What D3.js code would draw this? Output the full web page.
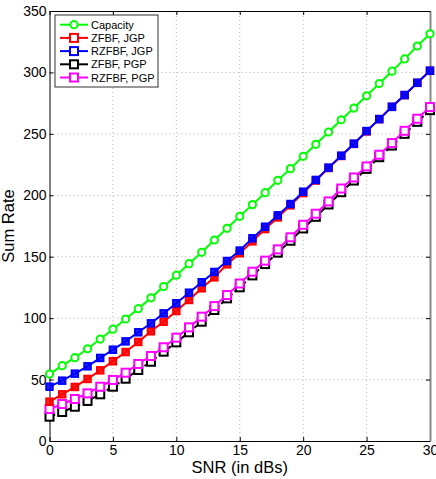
<!DOCTYPE html>
<html>
<head>
<meta charset="utf-8">
<script src="https://cdn.jsdelivr.net/npm/d3@7"></script>
<style>
  body { margin: 0; background: #fff; }
  text { font-family: "Liberation Sans", Arial, sans-serif; }
</style>
</head>
<body>
<script>
// SNR values (dB)
var snr = d3.range(0, 31);

// series
var capacity = [54.5, 61.3, 67.8, 75.1, 83, 91, 99.3, 107.7, 116.5, 125.7, 135, 144.3, 153.6, 163.6, 173.1,
  182.9, 192.4, 202.1, 212.2, 221.7, 231.7, 241.5, 251.5, 261.5, 271, 281, 291, 301, 311, 321.5, 331.5];
var zfbfJgp = [32, 38, 44, 50.5, 57.5, 64.9, 72.4, 80.6, 89.3, 97.1, 105.8, 114.8, 124.3, 133.2, 143.8,
  152.8, 162.5, 172.5, 182, 191.8, 201.8, 212, 222.2, 232, 241.8, 252, 262, 272, 281.5, 291.5, 301.3];
var rzfbfJgp = [44.2, 49.1, 54.8, 60.8, 67.6, 74.3, 81.1, 88.5, 95.8, 103.9, 112.1, 120.7, 129.2, 137.6, 146.5,
  155, 165, 174.4, 183.7, 192.9, 202.9, 212.5, 222.5, 232.2, 242, 252.3, 262, 272, 281.6, 291.6, 301.4];
var zfbfPgp = [19.8, 23.6, 27.9, 32.6, 38, 44.2, 50.7, 57.8, 64.5, 72.7, 80.3, 88.5, 97.1, 106.6, 116.1,
  125.1, 134.8, 144, 153.3, 163, 173, 182.5, 192.5, 202.5, 212, 221.5, 231, 240.5, 250, 259.8, 269.3];
var rzfbfPgp = [26, 30.1, 34.2, 38.8, 44.2, 49.7, 55.6, 62.7, 69.2, 76.3, 84.1, 92.5, 101.2, 109.8, 118.8,
  128.2, 137.8, 146.8, 156, 165.8, 176, 185, 195, 205.5, 214.5, 223.5, 233, 242.5, 252.5, 262.3, 271.8];

var xTicks = [0, 5, 10, 15, 20, 25, 30];
var yTicks = [0, 50, 100, 150, 200, 250, 300, 350];

var series = [
  {name: "Capacity", values: capacity, color: "#00ff00", marker: "circle", dash: null},
  {name: "ZFBF, JGP", values: zfbfJgp, color: "#ff0000", marker: "square", dash: null},
  {name: "RZFBF, JGP", values: rzfbfJgp, color: "#0000ff", marker: "square", dash: null},
  {name: "ZFBF, PGP", values: zfbfPgp, color: "#000000", marker: "square", dash: "6,3"},
  {name: "RZFBF, PGP", values: rzfbfPgp, color: "#ff00ff", marker: "square", dash: null}
];

var width = 436, height = 479;

var svg = d3.select("body").append("svg")
  .attr("width", width)
  .attr("height", height);

var x = d3.scaleLinear().domain([0, 30]).range([49.5, 430]);
var y = d3.scaleLinear().domain([0, 350]).range([441, 11]);

// dotted grid
svg.append("g").selectAll("line").data(xTicks.slice(1, -1)).enter().append("line")
  .attr("x1", function(d) { return x(d); }).attr("x2", function(d) { return x(d); })
  .attr("y1", y(0)).attr("y2", y(350))
  .attr("stroke", "#b4b4b4").attr("stroke-width", 1).attr("stroke-dasharray", "1,3");
svg.append("g").selectAll("line").data(yTicks.slice(1, -1)).enter().append("line")
  .attr("x1", x(0)).attr("x2", x(30))
  .attr("y1", function(d) { return y(d); }).attr("y2", function(d) { return y(d); })
  .attr("stroke", "#b4b4b4").attr("stroke-width", 1).attr("stroke-dasharray", "1,3");

// axes, ticks pointing inward on all four sides
svg.append("g").attr("transform", "translate(0," + y(0) + ")")
  .call(d3.axisBottom(x).tickValues(xTicks).tickSizeInner(-4).tickSizeOuter(0).tickPadding(4));
svg.append("g").attr("transform", "translate(" + x(0) + ",0)")
  .call(d3.axisLeft(y).tickValues(yTicks).tickSizeInner(-4).tickSizeOuter(0).tickPadding(3));
svg.append("g").attr("transform", "translate(0," + y(350) + ")")
  .call(d3.axisTop(x).tickValues(xTicks).tickSizeInner(-4).tickSizeOuter(0).tickFormat(""));
var rightAx = svg.append("g").attr("transform", "translate(" + x(30) + ",0)")
  .call(d3.axisRight(y).tickValues(yTicks).tickSizeInner(-4).tickSizeOuter(0).tickFormat(""));
rightAx.select(".domain").attr("stroke", "#888").attr("stroke-width", 2);

svg.selectAll(".tick text").attr("font-size", 14).attr("fill", "#000")
  .attr("font-family", "Liberation Sans, Arial, sans-serif");

// curves
var line = d3.line()
  .x(function(d) { return x(d[0]); })
  .y(function(d) { return y(d[1]); });

function drawMarker(g, type, cx, cy, color, hollow) {
  if (type === "circle") {
    g.append("circle").attr("cx", cx).attr("cy", cy).attr("r", 3.6)
      .attr("fill", "#fff").attr("stroke", color).attr("stroke-width", 2);
  } else {
    var s = hollow ? 8 : 6.5;
    g.append("rect").attr("x", cx - s / 2).attr("y", cy - s / 2)
      .attr("width", s).attr("height", s)
      .attr("fill", hollow ? "#fff" : color).attr("fill-opacity", hollow ? 1 : 0.85)
      .attr("stroke", color).attr("stroke-width", 2);
  }
}

var order = [3, 4, 1, 2, 0];
order.forEach(function(i) {
  var s = series[i];
  var pts = snr.map(function(v, k) { return [v, s.values[k]]; });
  var g = svg.append("g");
  g.append("path").datum(pts)
    .attr("d", line)
    .attr("fill", "none")
    .attr("stroke", s.color)
    .attr("stroke-width", 2)
    .attr("stroke-dasharray", s.dash);
  pts.forEach(function(p) {
    drawMarker(g, s.marker, x(p[0]), y(p[1]), s.color, i >= 3);
  });
});

// legend
var leg = svg.append("g").attr("transform", "translate(55,15)");
leg.append("rect").attr("width", 103).attr("height", 72)
  .attr("fill", "#fff").attr("stroke", "#333").attr("stroke-width", 1);
series.forEach(function(s, i) {
  var cy = 9.7 + i * 13.2;
  leg.append("line").attr("x1", 5).attr("x2", 33).attr("y1", cy).attr("y2", cy)
    .attr("stroke", s.color).attr("stroke-width", 2);
  drawMarker(leg, s.marker, 19, cy, s.color, true);
  leg.append("text").attr("x", 36).attr("y", cy + 4)
    .attr("font-size", 11).text(s.name);
});

// axis labels
svg.append("text").attr("x", (x(0) + x(30)) / 2).attr("y", 473)
  .attr("text-anchor", "middle").attr("font-size", 16.5).text("SNR (in dBs)");
svg.append("text").attr("transform", "translate(14," + (y(175)) + ") rotate(-90)")
  .attr("text-anchor", "middle").attr("font-size", 16.5).text("Sum Rate");
</script>
</body>
</html>
